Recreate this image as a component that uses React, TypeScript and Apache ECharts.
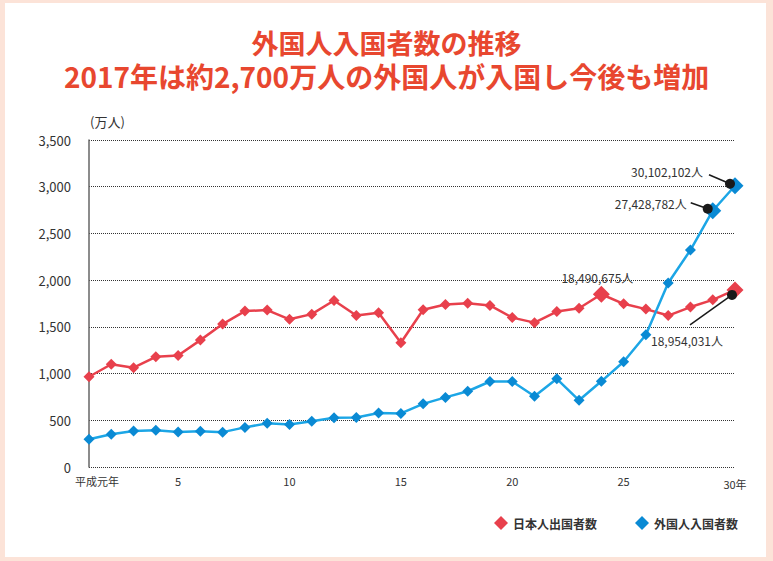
import React, { useEffect, useRef } from "react";
import * as echarts from "echarts";

const titleLines = ["外国人入国者数の推移", "2017年は約2,700万人の外国人が入国し今後も増加"];

const xLabels = [
  "平成元年", "2", "3", "4", "5", "6", "7", "8", "9", "10",
  "11", "12", "13", "14", "15", "16", "17", "18", "19", "20",
  "21", "22", "23", "24", "25", "26", "27", "28", "29", "30年",
];
const shownLabelIdx = [0, 4, 9, 14, 19, 24, 29];

const japaneseOutbound = [
  966, 1100, 1063, 1179, 1193, 1358, 1530, 1669, 1680, 1581,
  1636, 1782, 1622, 1652, 1330, 1683, 1740, 1753, 1729, 1599,
  1545, 1664, 1699, 1849, 1747, 1690, 1621, 1712, 1789, 1895,
];
const foreignInbound = [
  298, 350, 385, 393, 375, 383, 373, 424, 467, 456,
  490, 527, 529, 577, 573, 676, 745, 811, 915, 915,
  758, 944, 714, 917, 1126, 1415, 1969, 2322, 2743, 3010,
];
const bigJapaneseIdx = [23, 29];
const bigForeignIdx = [28, 29];

const seriesNames = ["日本人出国者数", "外国人入国者数"];

const annLabels = ["30,102,102人", "27,428,782人", "18,954,031人", "18,490,675人"];
const annIndex = [29, 28, 29, 23];
const annSeries = [1, 1, 0, 0];

// layout offsets for annotations (pixels relative to data point)
const annLayout = [
  { dot: [-5, -2], line: [-26, -11], text: [-32, -14], align: "right", showDot: true },
  { dot: [-5, -2], line: [-22, -8], text: [-26, -7], align: "right", showDot: true },
  { dot: [-3, 5], line: [-45, 35], text: [-84, 51], align: "left", showDot: true },
  { dot: [0, 0], line: [0, 0], text: [-4, -17], align: "center", showDot: false },
];

export default function App() {
  const ref = useRef<HTMLDivElement>(null);
  useEffect(() => {
    if (!ref.current) return;
    const chart = echarts.init(ref.current, null, { renderer: "svg" });
    const seriesData = [japaneseOutbound, foreignInbound];
    const annData = annLabels.map((_, i) => [annIndex[i], seriesData[annSeries[i]][annIndex[i]]]);
    const font = "'Noto Sans CJK JP', 'Noto Sans', sans-serif";
    const titleStyle = {
      fontFamily: font,
      fontWeight: "bold",
      color: "#e8472f",
      lineHeight: 28,
    };
    chart.setOption({
      animation: false,
      backgroundColor: "#fce3d8",
      textStyle: { fontFamily: font },
      graphic: [
        {
          type: "rect",
          z: -100,
          silent: true,
          shape: { x: 5, y: 3, width: 761, height: 554 },
          style: { fill: "#ffffff" },
        },
      ],
      title: [
        { text: titleLines[0], left: "center", top: 28, padding: 0, textStyle: { ...titleStyle, fontSize: 27 } },
        { text: titleLines[1], left: "center", top: 62, padding: 0, textStyle: { ...titleStyle, fontSize: 28 } },
      ],
      legend: {
        data: seriesNames.map((n) => ({ name: n, icon: "diamond" })),
        right: 30,
        top: 511,
        itemWidth: 14,
        itemHeight: 14,
        itemGap: 38,
        textStyle: { fontSize: 12, fontWeight: "bold", color: "#333", fontFamily: font },
      },
      grid: { left: 89, right: 38, top: 140, bottom: 94, containLabel: false },
      xAxis: {
        type: "category",
        data: xLabels,
        boundaryGap: false,
        axisLine: { show: false },
        axisTick: { show: false },
        axisLabel: {
          interval: (i: number) => shownLabelIdx.includes(i),
          margin: 8,
          fontSize: 11,
          color: "#333",
          formatter: (v: string, i: number) =>
            i === 0 ? "{first|" + v + "}" : i === xLabels.length - 1 ? "{last|" + v + "}" : v,
          rich: {
            first: { fontSize: 11, color: "#333", padding: [0, 0, 0, 16] },
            last: { fontSize: 11, color: "#333", padding: [4, 0, 0, 0] },
          },
        },
        splitLine: { show: false },
      },
      yAxis: {
        type: "value",
        min: 0,
        max: 3500,
        interval: 500,
        name: "(万人)",
        nameLocation: "end",
        nameGap: 12,
        nameTextStyle: { align: "left", fontSize: 13, color: "#333", padding: [0, 0, 0, 1] },
        axisLine: { show: true, lineStyle: { color: "#666", width: 1.5 } },
        axisTick: { show: false },
        axisLabel: {
          fontSize: 13,
          color: "#333",
          margin: 18,
          formatter: (v: number) => v.toLocaleString("en-US"),
        },
        splitLine: { show: true, lineStyle: { type: "dotted", color: "#333", width: 1 } },
      },
      series: [
        {
          name: seriesNames[0],
          type: "line",
          data: japaneseOutbound,
          symbol: "diamond",
          symbolSize: (_v: number, p: any) => (bigJapaneseIdx.includes(p.dataIndex) ? 17 : 11),
          lineStyle: { color: "#e8404c", width: 2.5 },
          itemStyle: { color: "#e8404c" },
          z: 3,
        },
        {
          name: seriesNames[1],
          type: "line",
          data: foreignInbound,
          symbol: "diamond",
          symbolSize: (_v: number, p: any) => (bigForeignIdx.includes(p.dataIndex) ? 17 : 11),
          lineStyle: { color: "#1ca6e6", width: 2.5 },
          itemStyle: { color: "#0a8ad4" },
          z: 4,
        },
        {
          name: "annotations",
          type: "custom",
          coordinateSystem: "cartesian2d",
          data: annData,
          z: 10,
          silent: true,
          renderItem: (params: any, api: any) => {
            const i = params.dataIndex;
            const p = api.coord([api.value(0), api.value(1)]);
            const L = annLayout[i];
            const children: any[] = [];
            if (L.showDot) {
              const dx = p[0] + L.dot[0];
              const dy = p[1] + L.dot[1];
              children.push({
                type: "line",
                shape: { x1: p[0] + L.line[0], y1: p[1] + L.line[1], x2: dx, y2: dy },
                style: { stroke: "#1a1a1a", lineWidth: 1.5 },
              });
              children.push({
                type: "circle",
                shape: { cx: dx, cy: dy, r: 5 },
                style: { fill: "#1a1a1a" },
              });
            }
            children.push({
              type: "text",
              x: p[0] + L.text[0],
              y: p[1] + L.text[1],
              style: {
                text: annLabels[i],
                fill: "#333",
                fontSize: 12,
                fontFamily: font,
                align: L.align,
                verticalAlign: "middle",
              },
            });
            return { type: "group", children };
          },
        },
      ],
    });
    return () => chart.dispose();
  }, []);
  return (
    <div
      ref={ref}
      style={{ position: "absolute", left: 0, top: 0, width: 773, height: 561 }}
    />
  );
}
